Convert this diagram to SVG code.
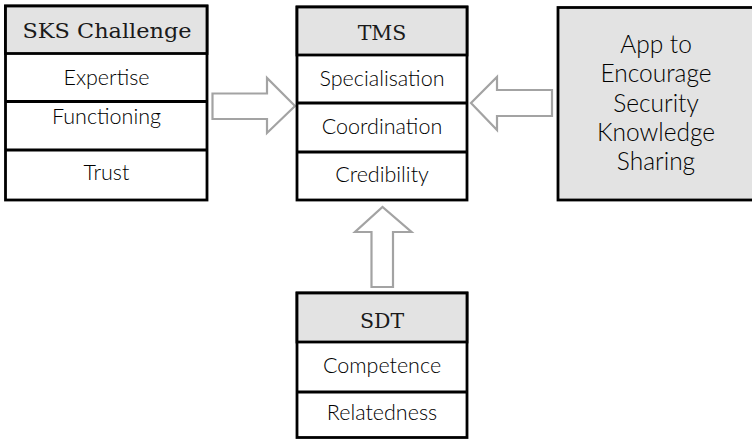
<svg xmlns="http://www.w3.org/2000/svg" width="752" height="440" viewBox="0 0 752 440">
<style>
.box{fill:#fff;stroke:#000;stroke-width:2.8}
.hdr{fill:#e3e3e3;stroke:#000;stroke-width:2.8}
.div{stroke:#000;stroke-width:2.8}
.ht{font-family:"DejaVu Serif",serif;font-size:20.5px;fill:#1a1a1a;text-anchor:middle}
.bt{font-family:Lato,"Noto Sans",sans-serif;font-size:21.5px;font-weight:300;fill:#000;text-anchor:middle}
.at{font-family:Lato,"Noto Sans",sans-serif;font-size:24.5px;font-weight:300;fill:#000;text-anchor:middle}
.arr{fill:#fff;stroke:#a3a3a3;stroke-width:2.2;stroke-linejoin:miter}
</style>
<rect width="752" height="440" fill="#fff"/>
<g id="connectors">
<path class="arr" d="M212.5,93.5 H267 V78 L295,106 L267,133 V119 H212.5 Z"/>
<path class="arr" d="M552,90 H497 V77 L471,103 L497,130 V116 H552 Z"/>
<path class="arr" d="M371.5,287 V232 H355 L382.5,207 L411.5,232 H393 V287 Z"/>
</g>
<g id="sks">
<rect class="box" x="5.5" y="6" width="201.5" height="194"/>
<rect class="hdr" x="5.5" y="6" width="201.5" height="47.5"/>
<line class="div" x1="5.5" y1="101.5" x2="207" y2="101.5"/>
<line class="div" x1="5.5" y1="150" x2="207" y2="150"/>
<text class="ht" x="107" y="38" textLength="169" lengthAdjust="spacingAndGlyphs">SKS Challenge</text>
<text class="bt" x="106.5" y="85">Expertise</text>
<text class="bt" x="106.5" y="123.5">Functioning</text>
<text class="bt" x="106.5" y="180">Trust</text>
</g>
<g id="tms">
<rect class="box" x="297" y="7" width="170" height="193"/>
<rect class="hdr" x="297" y="7" width="170" height="48"/>
<line class="div" x1="297" y1="103" x2="467" y2="103"/>
<line class="div" x1="297" y1="152" x2="467" y2="152"/>
<text class="ht" x="382" y="40">TMS</text>
<text class="bt" x="382" y="86">Specialisation</text>
<text class="bt" x="382" y="133.5">Coordination</text>
<text class="bt" x="382" y="181.5">Credibility</text>
</g>
<g id="app">
<rect class="hdr" x="558" y="7.5" width="200" height="192.5"/>
<text class="at" x="656" y="53">App to</text>
<text class="at" x="656" y="82.3">Encourage</text>
<text class="at" x="656" y="111.6">Security</text>
<text class="at" x="656" y="141">Knowledge</text>
<text class="at" x="656" y="170">Sharing</text>
</g>
<g id="sdt">
<rect class="box" x="297" y="293" width="170" height="144.5"/>
<rect class="hdr" x="297" y="293" width="170" height="49"/>
<line class="div" x1="297" y1="392" x2="467" y2="392"/>
<text class="ht" x="382" y="328">SDT</text>
<text class="bt" x="382" y="373">Competence</text>
<text class="bt" x="382" y="420">Relatedness</text>
</g>
</svg>
